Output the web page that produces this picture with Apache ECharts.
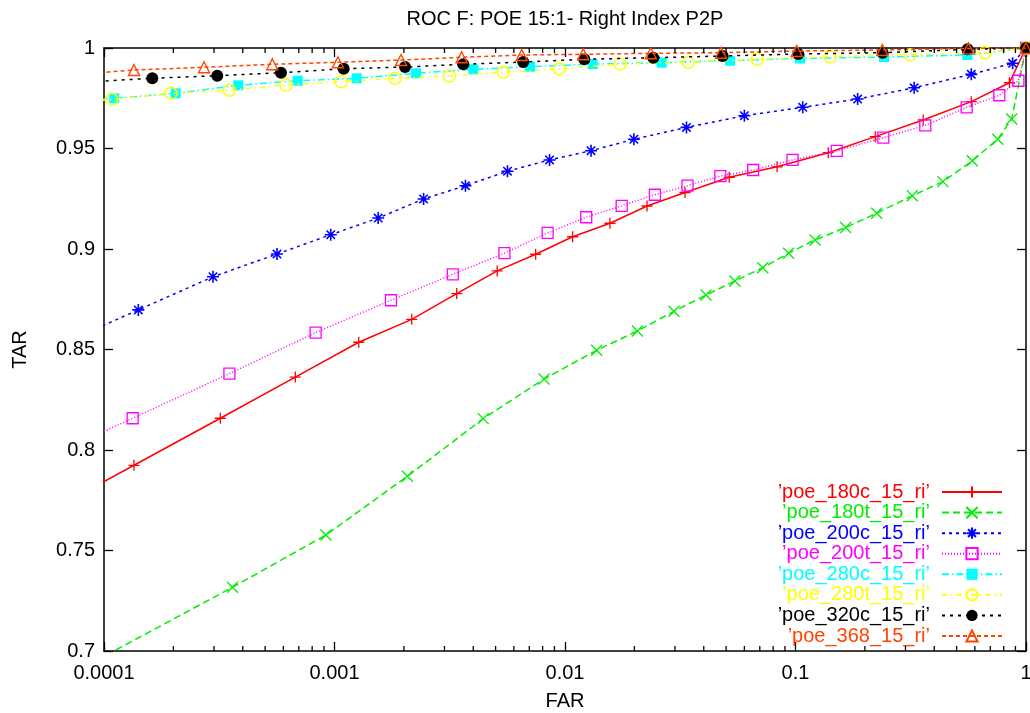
<!DOCTYPE html>
<html>
<head>
<meta charset="utf-8">
<script src="https://cdn.jsdelivr.net/npm/echarts@6/dist/echarts.min.js"></script>
<style>
html,body{margin:0;padding:0;background:#fff;}
#chart{width:1030px;height:713px;}
</style>
</head>
<body>
<div id="chart"></div>
<script>
// ---------- data ----------
const chartTitle = 'ROC F: POE 15:1- Right Index P2P';
const xTickLabels = ['0.0001', '0.001', '0.01', '0.1', '1'];
const yTickLabels = ['0.7', '0.75', '0.8', '0.85', '0.9', '0.95', '1'];
const xMinorTicks = [2e-4,3e-4,4e-4,5e-4,6e-4,7e-4,8e-4,9e-4,
                     2e-3,3e-3,4e-3,5e-3,6e-3,7e-3,8e-3,9e-3,
                     0.02,0.03,0.04,0.05,0.06,0.07,0.08,0.09,
                     0.2,0.3,0.4,0.5,0.6,0.7,0.8,0.9];
const seriesNames = ['’poe_180c_15_ri’','’poe_180t_15_ri’','’poe_200c_15_ri’','’poe_200t_15_ri’',
                     '’poe_280c_15_ri’','’poe_280t_15_ri’','’poe_320c_15_ri’','’poe_368_15_ri’'];

// first point of each curve lies left of the plotted range (clipped, as in the reference)
const far180c = [6.3e-5,1.349e-4,3.196e-4,6.76e-4,1.274e-3,2.163e-3,3.39e-3,5.08e-3,7.46e-3,0.01079,0.01567,0.0227,0.03317,0.0516,0.0832,0.1387,0.2218,0.358,0.579,0.847,1];
const tar180c = [0.7718,0.7924,0.8158,0.8363,0.8536,0.8650,0.8778,0.8891,0.8974,0.9061,0.9128,0.9214,0.9281,0.9357,0.9409,0.9479,0.9559,0.9642,0.9733,0.9827,1];

const far180t = [6.3e-5,3.61e-4,9.18e-4,2.07e-3,4.42e-3,8.11e-3,0.01372,0.0206,0.0297,0.0409,0.0546,0.0721,0.0933,0.1216,0.165,0.225,0.321,0.436,0.585,0.754,0.867,1];
const tar180t = [0.685,0.7317,0.7577,0.7869,0.8156,0.8353,0.8496,0.8592,0.8690,0.8771,0.8841,0.8907,0.8979,0.9045,0.9107,0.9178,0.9265,0.9335,0.9439,0.9546,0.9647,1];

const far200c = [6.3e-5,1.409e-4,2.97e-4,5.63e-4,9.63e-4,1.547e-3,2.435e-3,3.70e-3,5.63e-3,8.57e-3,0.01297,0.0199,0.03365,0.06,0.1075,0.186,0.327,0.579,0.875,1];
const tar200c = [0.8519,0.8697,0.8862,0.8975,0.9071,0.9154,0.9249,0.9315,0.9387,0.9443,0.9489,0.9546,0.9605,0.9663,0.9705,0.9746,0.9802,0.9869,0.9924,1];

const far200t = [6.3e-5,1.332e-4,3.50e-4,8.28e-4,1.758e-3,3.26e-3,5.46e-3,8.41e-3,0.01236,0.01762,0.02455,0.034,0.0472,0.0655,0.0971,0.151,0.2404,0.3656,0.553,0.766,0.927,1];
const tar200t = [0.7986,0.8158,0.8380,0.8584,0.8745,0.8874,0.8979,0.9080,0.9158,0.9215,0.9270,0.9315,0.9363,0.9393,0.9443,0.9488,0.9554,0.9615,0.9705,0.9765,0.9837,1];

const far280c = [6.3e-5,1.108e-4,2.046e-4,3.825e-4,6.92e-4,1.248e-3,2.259e-3,4.0e-3,7.05e-3,0.01318,0.02627,0.052,0.1046,0.242,0.556,1];
const tar280c = [0.9727,0.97498,0.97746,0.98144,0.98373,0.98493,0.98741,0.9894,0.9907,0.9920,0.99269,0.99368,0.9948,0.99552,0.99652,1];

const far280t = [6.3e-5,1.08e-4,1.952e-4,3.496e-4,6.16e-4,1.067e-3,1.83e-3,3.15e-3,5.40e-3,9.45e-3,0.01732,0.0343,0.0683,0.1412,0.314,0.664,1];
const tar280t = [0.9718,0.97448,0.97746,0.97896,0.98159,0.98323,0.98493,0.98607,0.98791,0.98955,0.9920,0.99289,0.99438,0.99567,0.99667,0.99766,1];

const far320c = [6.3e-5,1.62e-4,3.10e-4,5.86e-4,1.096e-3,2.023e-3,3.62e-3,6.59e-3,0.01213,0.02415,0.0483,0.1028,0.2388,0.558,1];
const tar320c = [0.9823,0.98493,0.98622,0.98771,0.9897,0.99055,0.99189,0.99303,0.99438,0.99517,0.99602,0.99701,0.99766,0.99935,1];

const far368 = [6.3e-5,1.349e-4,2.716e-4,5.37e-4,1.035e-3,1.943e-3,3.56e-3,6.49e-3,0.0120,0.02355,0.0475,0.1012,0.238,0.5625,1];
const tar368 = [0.9861,0.98905,0.9904,0.9919,0.9929,0.9940,0.99537,0.99652,0.99687,0.99736,0.99766,0.99851,0.999,0.9998,1];

// ---------- styling ----------
const FONT = 'Liberation Sans, Arial, sans-serif';
const xMin = 0.0001, xMax = 1, yMin = 0.7, yMax = 1, yStep = 0.05;
const PLUS = 'path://M5,0L5,10M0,5L10,5';
const CROSS = 'path://M0,0L10,10M10,0L0,10';
const STAR = 'path://M5,0L5,10M0,5L10,5M1.5,1.5L8.5,8.5M8.5,1.5L1.5,8.5';

const styles = [
  {color:'#ff0000', dash:'solid',        symbol:PLUS,       size:11, fill:'#ff0000', bw:1.3},
  {color:'#00ee00', dash:[7,4],          symbol:CROSS,      size:11, fill:'#00ee00', bw:1.3},
  {color:'#0000ff', dash:[3,4],          symbol:STAR,       size:12, fill:'#0000ff', bw:1.6},
  {color:'#ff00ff', dash:[1,2],          symbol:'rect',     size:11, fill:'rgba(0,0,0,0)', bw:1.3},
  {color:'#00ffff', dash:[7,3,1.5,3],    symbol:'rect',     size:10, fill:'#00ffff', bw:0},
  {color:'#ffff00', dash:[5,4,1.5,4],    symbol:'circle',   size:12, fill:'rgba(0,0,0,0)', bw:1.5},
  {color:'#000000', dash:[3,5],          symbol:'circle',   size:12, fill:'#000000', bw:0},
  {color:'#ff4500', dash:[4,3],          symbol:'triangle', size:11, fill:'rgba(0,0,0,0)', bw:1.4}
];
const farList = [far180c, far180t, far200c, far200t, far280c, far280t, far320c, far368];
const tarList = [tar180c, tar180t, tar200c, tar200t, tar280c, tar280t, tar320c, tar368];

const curveSeries = seriesNames.map((name, i) => ({
  name: name,
  type: 'line',
  xAxisIndex: 0, yAxisIndex: 0,
  data: farList[i].map((f, k) => [f, tarList[i][k]]),
  clip: true,
  symbol: styles[i].symbol,
  symbolSize: styles[i].size,
  showSymbol: true,
  showAllSymbol: true,
  lineStyle: {color: styles[i].color, width: 1.5, type: styles[i].dash},
  itemStyle: {color: styles[i].fill, borderColor: styles[i].color, borderWidth: styles[i].bw},
  emphasis: {disabled: true},
  z: 3 + i
}));

const minorTickSeries = {
  type: 'custom',
  xAxisIndex: 0, yAxisIndex: 0,
  silent: true,
  clip: false,
  data: xMinorTicks.map(v => [v, yMax]),
  renderItem: function (params, api) {
    const b = api.coord([api.value(0), yMin]);
    const t = api.coord([api.value(0), yMax]);
    const st = {stroke: '#000', lineWidth: 1.3};
    return {type: 'group', children: [
      {type: 'line', shape: {x1: b[0], y1: b[1], x2: b[0], y2: b[1] - 5}, style: st},
      {type: 'line', shape: {x1: t[0], y1: t[1], x2: t[0], y2: t[1] + 5}, style: st}
    ]};
  },
  z: 20
};

const axisLineStyle = {show: true, onZero: false, lineStyle: {color: '#000', width: 1.5}};
const tickStyle = {show: true, inside: true, length: 9, lineStyle: {color: '#000', width: 1.3}};

function xAxisCfg(pos, withLabels) {
  return {
    type: 'log', logBase: 10, min: xMin, max: xMax, position: pos, splitNumber: 4,
    axisLine: axisLineStyle,
    axisTick: tickStyle,
    minorTick: {show: false},
    splitLine: {show: false},
    axisLabel: {
      show: withLabels, color: '#000', fontSize: 20, fontFamily: FONT, margin: 12,
      showMinLabel: true, showMaxLabel: true, hideOverlap: false,
      formatter: function (v) { return xTickLabels[Math.round(Math.log10(v)) + 4]; }
    },
    name: withLabels ? 'FAR' : '',
    nameLocation: 'middle', nameGap: 40,
    nameTextStyle: {color: '#000', fontSize: 20, fontFamily: FONT}
  };
}
function yAxisCfg(pos, withLabels) {
  return {
    type: 'value', min: yMin, max: yMax, interval: yStep, position: pos,
    axisLine: axisLineStyle,
    axisTick: tickStyle,
    splitLine: {show: false},
    axisLabel: {
      show: withLabels, color: '#000', fontSize: 20, fontFamily: FONT, margin: 9,
      showMinLabel: true, showMaxLabel: true, hideOverlap: false,
      formatter: function (v, i) { return yTickLabels[i]; }
    },
    name: withLabels ? 'TAR' : '',
    nameLocation: 'middle', nameGap: 74,
    nameTextStyle: {color: '#000', fontSize: 20, fontFamily: FONT}
  };
}

const chart = echarts.init(document.getElementById('chart'), null, {renderer: 'canvas'});
chart.setOption({
  animation: false,
  backgroundColor: '#ffffff',
  title: {
    text: chartTitle, left: 565, top: 9, textAlign: 'center', padding: 0,
    textStyle: {color: '#000', fontSize: 20, fontWeight: 'normal', fontFamily: FONT}
  },
  grid: {left: 104, right: 4, top: 48, bottom: 62, containLabel: false, outerBoundsMode: 'none'},
  legend: {
    orient: 'vertical', right: 27, top: 482, padding: 0,
    align: 'right', itemWidth: 60, itemHeight: 14, itemGap: 0.57,
    selectedMode: false,
    textStyle: {fontSize: 20, fontFamily: FONT, lineHeight: 20, padding: [0, 7, 0, 0]},
    data: seriesNames.map((n, i) => ({name: n, textStyle: {color: styles[i].color}}))
  },
  xAxis: [xAxisCfg('bottom', true), xAxisCfg('top', false)],
  yAxis: [yAxisCfg('left', true), yAxisCfg('right', false)],
  series: curveSeries.concat([minorTickSeries])
});
</script>
</body>
</html>
